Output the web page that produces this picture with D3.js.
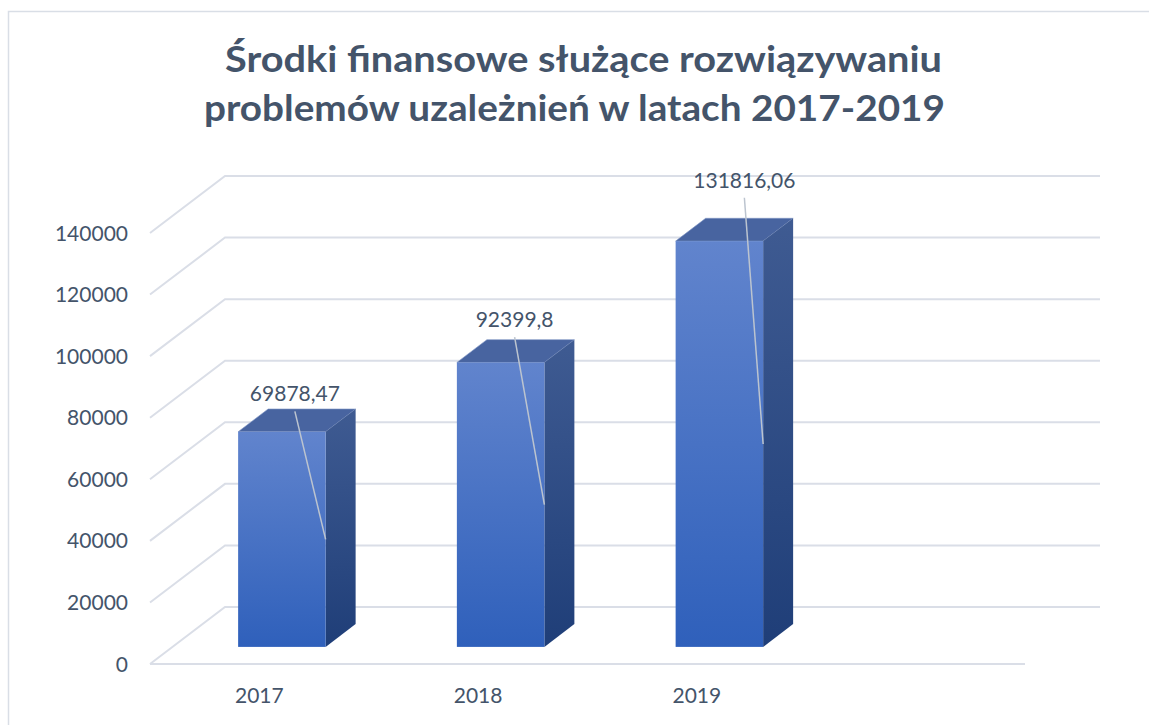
<!DOCTYPE html>
<html>
<head>
<meta charset="utf-8">
<script src="https://cdn.jsdelivr.net/npm/d3@7"></script>
<style>
  body { margin: 0; background: #fff; }
  svg { display: block; }
  text { font-family: Lato, "Open Sans", sans-serif; fill: #44546a; }
</style>
</head>
<body>
<div id="chart"></div>
<script>
var titleLines = ['Środki finansowe służące rozwiązywaniu', 'problemów uzależnień w latach 2017-2019'];
var categories = ['2017', '2018', '2019'];
var values = [69878.47, 92399.8, 131816.06];
var valueLabels = ['69878,47', '92399,8', '131816,06'];
var yTicks = [0, 20000, 40000, 60000, 80000, 100000, 120000, 140000];

var width = 1149, height = 725;
var left = 150, floorRight = 1025, baseY = 664, topY = 233;
var depthX = 75, depthY = 57;          // full floor depth, back wall offset
var zFront = 0.3, zBack = 0.7;         // bar position inside the depth
var slots = 4;                         // excel kept an empty 4th slot

var svg = d3.select('#chart').append('svg')
            .attr('width', width)
            .attr('height', height);

// frame (only top and left edge inside the picture)
svg.append('rect')
   .attr('x', 8.5).attr('y', 11.5)
   .attr('width', 1200).attr('height', 800)
   .attr('fill', 'none')
   .attr('stroke', '#d9dee6')
   .attr('stroke-width', 1.5);

var x = d3.scaleBand()
          .domain(categories)
          .range([left, left + (floorRight - left) * categories.length / slots])
          .paddingInner(0.6)
          .paddingOuter(0.3);

var band = d3.scaleBand()
             .domain(categories)
             .range([left, left + (floorRight - left) * categories.length / slots]);

var y = d3.scaleLinear()
          .domain([0, 140000])
          .range([baseY, topY]);

function px(xv, z) { return xv + z * depthX; }
function py(yv, z) { return yv - z * depthY; }

var defs = svg.append('defs');
function grad(id, c1, c2) {
    var g = defs.append('linearGradient')
                .attr('id', id)
                .attr('x1', 0).attr('y1', 0).attr('x2', 0).attr('y2', 1);
    g.append('stop').attr('offset', 0).attr('stop-color', c1);
    g.append('stop').attr('offset', 1).attr('stop-color', c2);
}
grad('frontGrad', '#6184cd', '#2f60bb');
grad('sideGrad', '#3f5b92', '#1f3e78');

// grid: diagonal on the side wall + horizontal on the back wall
var grid = svg.append('g')
              .attr('stroke', '#dadee7')
              .attr('stroke-width', 2)
              .attr('fill', 'none');

grid.selectAll('path.grid')
    .data(yTicks)
    .enter()
    .append('path')
      .attr('class', 'grid')
      .attr('d', function(d) {
          return 'M' + px(left, 0) + ',' + py(y(d), 0) +
                 'L' + px(left, 1) + ',' + py(y(d), 1) +
                 'L' + px(floorRight, 1) + ',' + py(y(d), 1);
      });

grid.append('line')
    .attr('x1', left).attr('y1', baseY)
    .attr('x2', floorRight).attr('y2', baseY);

// tick labels
svg.selectAll('text.tick')
   .data(yTicks)
   .enter()
   .append('text')
     .attr('class', 'tick')
     .attr('x', 128)
     .attr('y', function(d) { return y(d); })
     .attr('dy', '0.36em')
     .attr('text-anchor', 'end')
     .attr('font-size', 21)
     .text(function(d) { return d; });

// category labels
svg.selectAll('text.cat')
   .data(categories)
   .enter()
   .append('text')
     .attr('class', 'cat')
     .attr('x', function(d) { return band(d) + band.bandwidth() / 2; })
     .attr('y', 703)
     .attr('text-anchor', 'middle')
     .attr('font-size', 21)
     .text(function(d) { return d; });

// bars
var bars = svg.selectAll('g.bar')
              .data(values)
              .enter()
              .append('g')
                .attr('class', 'bar');

function poly(pts) {
    return 'M' + pts.map(function(p) { return p[0] + ',' + p[1]; }).join('L') + 'Z';
}

bars.each(function(d, i) {
    var g = d3.select(this);
    var x0 = x(categories[i]), x1 = x0 + x.bandwidth();
    var yb = y(0), yt = y(d);
    // top face
    g.append('path')
     .attr('d', poly([[px(x0, zFront), py(yt, zFront)], [px(x0, zBack), py(yt, zBack)],
                      [px(x1, zBack), py(yt, zBack)], [px(x1, zFront), py(yt, zFront)]]))
     .attr('fill', '#4864a0')
     .attr('stroke', '#7f95c4').attr('stroke-width', 0.6);
    // side face
    g.append('path')
     .attr('d', poly([[px(x1, zFront), py(yt, zFront)], [px(x1, zBack), py(yt, zBack)],
                      [px(x1, zBack), py(yb, zBack)], [px(x1, zFront), py(yb, zFront)]]))
     .attr('fill', 'url(#sideGrad)');
    // front face
    g.append('rect')
     .attr('x', px(x0, zFront))
     .attr('y', py(yt, zFront))
     .attr('width', x1 - x0)
     .attr('height', yb - yt)
     .attr('fill', 'url(#frontGrad)');
});

// data labels, moved by hand in the original, with leader lines
var labelShift = [[-2, -19], [-1, -24], [10, -42]];
bars.each(function(d, i) {
    var g = d3.select(this);
    var x0 = x(categories[i]), x1 = x0 + x.bandwidth();
    var zc = (zFront + zBack) / 2;
    var lx = px((x0 + x1) / 2, zc) + labelShift[i][0];
    var ly = py(y(d), zc) + labelShift[i][1];
    g.append('line')
     .attr('x1', lx).attr('y1', ly + 10)
     .attr('x2', px(x1, zFront))
     .attr('y2', py((y(d) + y(0)) / 2, zFront))
     .attr('stroke', '#bcc4cf')
     .attr('stroke-width', 1.5);
    g.append('text')
     .attr('x', lx)
     .attr('y', ly)
     .attr('text-anchor', 'middle')
     .attr('font-size', 21)
     .text(valueLabels[i]);
});

// title (two lines, stretched to the width the original font gives)
var titleX = [225, 204], titleY = [72, 121], titleW = [717, 741];
svg.selectAll('text.title')
   .data(titleLines)
   .enter()
   .append('text')
     .attr('class', 'title')
     .attr('x', function(d, i) { return titleX[i]; })
     .attr('y', function(d, i) { return titleY[i]; })
     .attr('textLength', function(d, i) { return titleW[i]; })
     .attr('lengthAdjust', 'spacingAndGlyphs')
     .attr('font-size', 37)
     .attr('font-weight', 'bold')
     .text(function(d) { return d; });
</script>
</body>
</html>
